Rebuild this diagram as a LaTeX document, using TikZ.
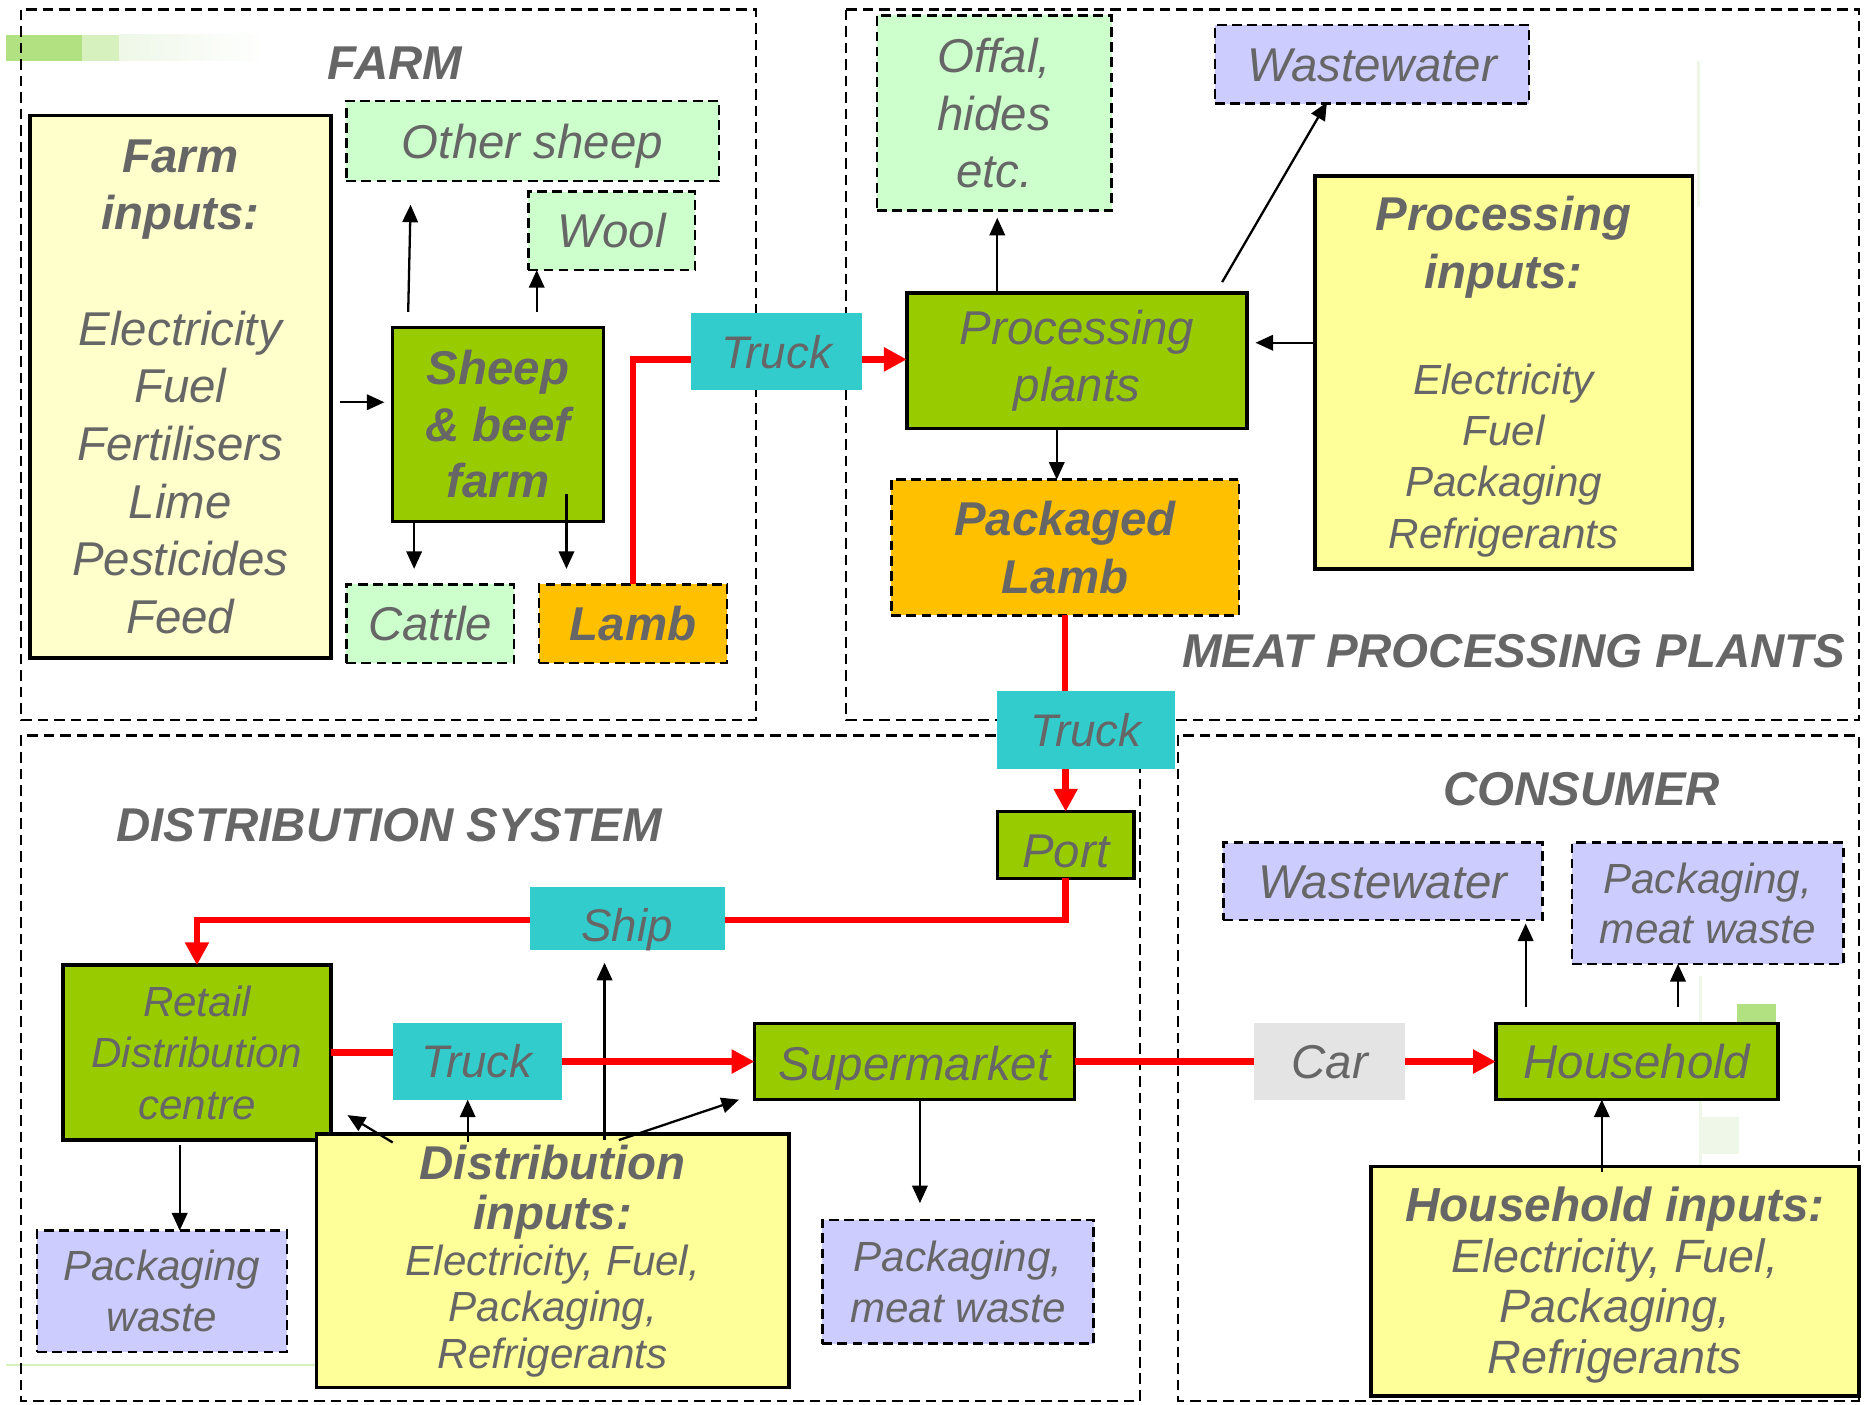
\documentclass[tikz,border=0pt]{standalone}
\usepackage{fontspec}
\setmainfont{Liberation Sans}
\usetikzlibrary{calc,arrows.meta}
\definecolor{txt}{RGB}{102,102,102}
\definecolor{ylight}{RGB}{255,255,204}
\definecolor{ybox}{RGB}{255,255,153}
\definecolor{gfill}{RGB}{153,204,0}
\definecolor{lgreen}{RGB}{204,255,204}
\definecolor{lav}{RGB}{204,204,255}
\definecolor{orng}{RGB}{255,192,0}
\definecolor{tealbox}{RGB}{51,204,204}
\definecolor{carg}{RGB}{228,228,228}
\definecolor{decoA}{RGB}{178,225,130}
\definecolor{decoB}{RGB}{214,240,190}
\definecolor{decoC}{RGB}{238,247,232}
\newcommand\unitpx{0.3386pt}
\begin{document}
\begin{tikzpicture}[x=0.3386pt,y=-0.3386pt,
  base/.style={inner sep=0pt, outer sep=0pt, align=center, text=txt,
               font=\fontsize{13.5}{16.4}\selectfont\itshape},
  sz/.style 2 args={minimum width=#1*\unitpx, minimum height=#2*\unitpx},
  single/.style={text height=#1, text depth=0pt},
  single/.default=9.7pt,
  dbox/.style={base, draw=black, line width=0.7pt, dash pattern=on 2.8pt off 1.5pt},
  sbox/.style={base, draw=black, line width=1pt},
  tbox/.style={base, fill=tealbox, font=\fontsize{13}{16}\selectfont\itshape},
  boldtxt/.style={font=\fontsize{13.5}{#1}\selectfont\bfseries\itshape},
  title/.style={inner sep=0pt, text=txt, font=\fontsize{13.5}{16}\selectfont\bfseries\itshape},
  region/.style={draw=black, line width=0.6pt, dash pattern=on 3pt off 1.7pt},
  arr/.style={draw=black, line width=0.65pt, -{Triangle[length=5pt,width=4.4pt]}},
  redline/.style={draw=red, line width=1.9pt},
  redarr/.style={redline, -{Triangle[length=6.5pt,width=6.5pt]}}
]
\useasboundingbox (0,0) rectangle (1568,1180);
% background decorations
\fill[decoA] (5,29) rectangle (69,51);
\fill[decoB] (69,29) rectangle (100,51);
\shade[left color=decoC, right color=white] (100,29) rectangle (225,51);
\draw[decoB, line width=0.6pt] (5,1147) -- (266,1147);
\fill[decoA] (1460,844) rectangle (1492,860);
\fill[decoC] (1429,939) rectangle (1461,970);
\draw[decoC, line width=0.8pt] (1429,820) -- (1429,1180);
\draw[decoC, line width=0.8pt] (1427,51) -- (1427,174);

% regions
\draw[region] (18,8) rectangle (635,605);
\draw[region] (711,8) rectangle (1562,605);
\draw[region] (18,618) rectangle (958,1177);
\draw[region] (990,618) rectangle (1562,1177);

% titles
\node[title] (tfarm) at (332,53) {FARM};
\node[title] (tmeat) at (1272,547) {MEAT PROCESSING PLANTS};
\node[title] (tdist) at (327,693) {DISTRIBUTION SYSTEM};
\node[title] (tcons) at (1329,663) {CONSUMER};

% farm
\node[sbox, fill=ylight, sz={253}{456}] (farmin) at (151.5,325)
  {\textbf{Farm}\\\textbf{inputs:}\\[16.4pt]Electricity\\Fuel\\Fertilisers\\Lime\\Pesticides\\Feed};
\node[dbox, single, fill=lgreen, sz={313}{67}] (othersheep) at (447.5,118.5) {Other sheep};
\node[dbox, single, fill=lgreen, sz={140}{66}] (wool) at (514,194) {Wool};
\node[sbox, fill=gfill, sz={177}{163}, boldtxt=16.1] (sheep) at (418.5,356.5) {Sheep\\\& beef\\farm};
\node[dbox, single, fill=lgreen, sz={141}{66}] (cattle) at (361.5,524) {Cattle};
\node[dbox, single, fill=orng, sz={158}{66}, boldtxt=16] (lamb) at (532,524) {Lamb};
\node[tbox, single=9.3pt, sz={143}{65}] (truck1) at (652.5,295.5) {Truck};

% meat processing
\node[sbox, fill=gfill, sz={286}{114}, font=\fontsize{13.5}{16.25}\selectfont\itshape] (procplants) at (905,303) {Processing\\plants};
\node[dbox, fill=lgreen, sz={197}{164}] (offal) at (835.5,95) {Offal,\\hides\\etc.};
\node[dbox, single, fill=lav, sz={264}{66}] (ww1) at (1153,54) {Wastewater};
\node[sbox, fill=ybox, sz={317}{330}, font=\fontsize{12}{14.6}\selectfont\itshape] (procin) at (1263.5,313)
  {{\fontsize{13.5}{14.6}\selectfont\bfseries\rule{0pt}{12pt}Processing}\\[2pt]{\fontsize{13.5}{14.6}\selectfont\bfseries inputs:}\\[15.5pt]Electricity\\Fuel\\Packaging\\Refrigerants};
\node[dbox, fill=orng, sz={292}{114}, boldtxt=16.6] (pklamb) at (895,460) {Packaged\\Lamb};
\node[tbox, single=9.3pt, sz={149}{65}] (truck2) at (912.5,613.5) {Truck};

% distribution
\node[sbox, single=13.1pt, fill=gfill, sz={115}{56}] (port) at (895.5,710) {Port};
\node[tbox, single=13.3pt, sz={164}{53}] (ship) at (527,771.5) {Ship};
\node[sbox, fill=gfill, sz={225}{147}, font=\fontsize{12}{14.6}\selectfont\itshape] (retail) at (165.5,884.5) {Retail\\Distribution\\centre};
\node[tbox, single=9.3pt, sz={142}{64}] (truck3) at (401,892) {Truck};
\node[sbox, single=10.6pt, fill=gfill, sz={269}{64}] (super) at (768.5,892) {Supermarket};
\node[sbox, fill=ybox, sz={397}{213}, font=\fontsize{12}{13.2}\selectfont\itshape] (distin) at (464.5,1059.5)
  {{\fontsize{13.5}{13.2}\selectfont\bfseries Distribution}\\[1pt]{\fontsize{13.5}{13.2}\selectfont\bfseries inputs:}\\Electricity, Fuel,\\Packaging,\\Refrigerants};
\node[dbox, fill=lav, sz={210}{102}, font=\fontsize{12}{14.6}\selectfont\itshape] (pwaste) at (136,1085) {Packaging\\waste};
\node[dbox, fill=lav, sz={228}{104}, font=\fontsize{12}{14.6}\selectfont\itshape] (pmw1) at (805,1077) {Packaging,\\meat waste};

% consumer
\node[base, single, fill=carg, sz={127}{64}] (car) at (1117.5,892) {Car};
\node[sbox, single, fill=gfill, sz={237}{64}] (household) at (1375.5,892) {Household};
\node[dbox, single, fill=lav, sz={268}{65}] (ww2) at (1162,740.5) {Wastewater};
\node[dbox, fill=lav, sz={228}{102}, font=\fontsize{12}{14.2}\selectfont\itshape] (pmw2) at (1435,759) {Packaging,\\meat waste};
\node[sbox, fill=ybox, sz={410}{193}, font=\fontsize{13.3}{14.4}\selectfont\itshape] (hhin) at (1357,1076.5)
  {{\fontsize{13.6}{14.4}\selectfont\bfseries\rule{0pt}{12pt}Household inputs:}\\Electricity, Fuel,\\Packaging,\\Refrigerants};

% black arrows
\draw[arr] ($(farmin.east)+(8,13)$) -- ($(sheep.west)+(-7,-18.5)$);
\draw[arr] ($(sheep.north west)+(13,-13)$) -- ($(othersheep.south west)+(54,20)$);
\draw[arr] ($(sheep.north west)+(121,-13)$) -- ($(wool.south west)+(7,0)$);
\draw[arr] ($(sheep.south west)+(18,0)$) -- ($(cattle.north west)+(57,-13)$);
\draw[arr] ($(sheep.south east)+(-31,-23)$) -- ($(lamb.north west)+(23,-13)$);
\draw[arr] ($(procplants.north west)+(76,0)$) -- ($(offal.south west)+(101,6)$);
\draw[arr] ($(procplants.north west)+(265,-9)$) -- ($(ww1.south west)+(94,-1)$);
\draw[arr] ($(procin.west)+(0,-25)$) -- ($(procplants.east)+(7,-15)$);
\draw[arr] ($(procplants.south west)+(126,0)$) -- ($(pklamb.north west)+(139,0)$);
\draw[arr] ($(retail.south west)+(98,4)$) -- ($(pwaste.north west)+(120,0)$);
\draw[arr] ($(distin.north west)+(64,7)$) -- ($(retail.south east)+(14,-21)$);
\draw[arr] ($(distin.north west)+(127,7)$) -- ($(truck3.south west)+(63,0)$);
\draw[arr] ($(distin.north west)+(242,5)$) -- ($(ship.south west)+(63,11)$);
\draw[arr] ($(distin.north west)+(254,5)$) -- ($(super.south west)+(-13,0)$);
\draw[arr] ($(super.south west)+(139,0)$) -- ($(pmw1.north west)+(82,-14)$);
\draw[arr] ($(household.north west)+(25,-14)$) -- ($(ww2.south west)+(254,3)$);
\draw[arr] ($(household.north west)+(153,-14)$) -- ($(pmw2.south west)+(89,0)$);
\draw[arr] ($(hhin.north west)+(194,5)$) -- ($(household.south west)+(89,0)$);

% red flow
\draw[redline] (lamb.north) |- ($(truck1.west)+(0,6.5)$);
\draw[redarr] ($(truck1.east)+(0,6.5)$) -- ($(procplants.west)+(0,-1)$);
\draw[redline] (pklamb.south) -- (pklamb.south |- truck2.north);
\draw[redarr] (port.north |- truck2.south) -- (port.north);
\draw[redline] (port.south) |- ($(ship.east)+(0,1.5)$);
\draw[redarr] ($(ship.west)+(0,1.5)$) -| (retail.north);
\draw[redline] (retail.east) -- (truck3.west |- retail.east);
\draw[redarr] (truck3.east) -- (super.west);
\draw[redline] (super.east) -- (car.west);
\draw[redarr] (car.east) -- (household.west);
\end{tikzpicture}
\end{document}
